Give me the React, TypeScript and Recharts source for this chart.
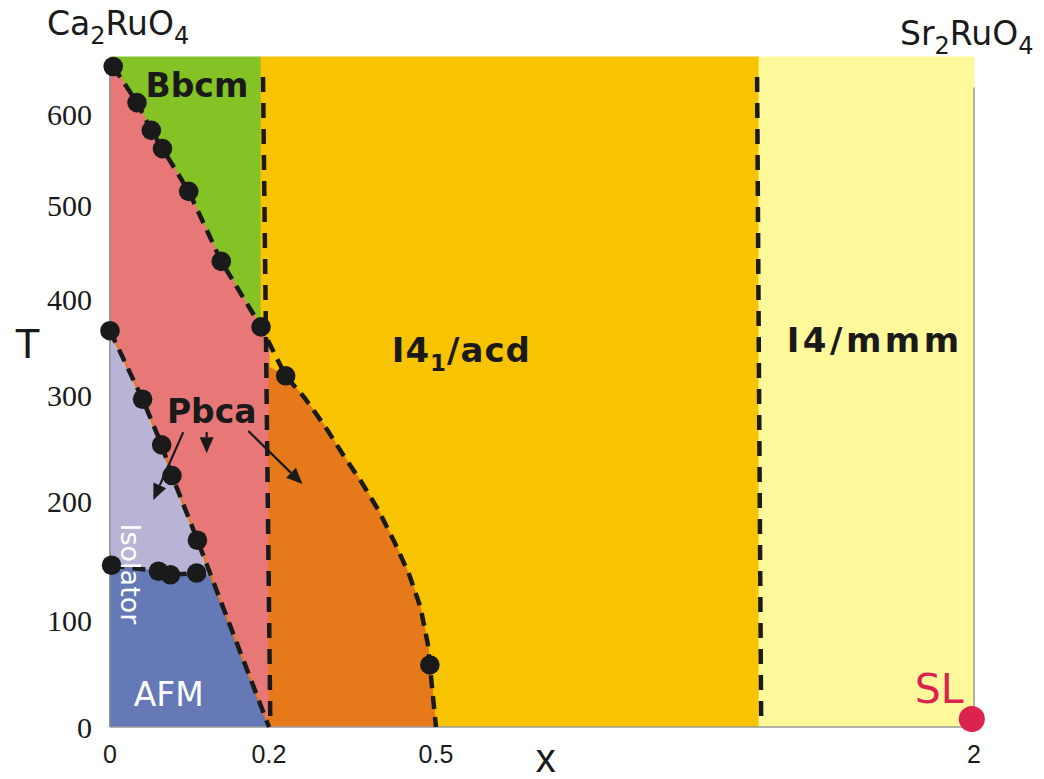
import React from 'react'
import { ComposedChart, Scatter, XAxis, YAxis } from 'recharts'

type Pt = { x: number; T: number }

// the printed axes are not linear: value knots and where they sit along the axis (0..1)
const X_KNOTS = [0, 0.2, 0.5, 1.5, 2]
const X_STOPS = [0, 0.184, 0.3773, 0.7512, 1]
const X_TICKS = [0, 0.2, 0.5, 2]
const T_KNOTS = [0, 100, 200, 300, 400, 500, 600, 660]
const T_STOPS = [0, 0.1597, 0.3373, 0.4955, 0.6388, 0.7791, 0.9149, 1]
const T_TICKS = [0, 100, 200, 300, 400, 500, 600]

// measured transitions (black dots)
const BBCM_DOTS: Pt[] = [
  { x: 0.004, T: 650 }, { x: 0.034, T: 612 }, { x: 0.052, T: 582 }, { x: 0.066, T: 562 },
  { x: 0.099, T: 515 }, { x: 0.14, T: 440 }, { x: 0.19, T: 371 },
]
const I41_DOTS: Pt[] = [{ x: 0.23, T: 320 }, { x: 0.489, T: 58 }]
const PBCA_DOTS: Pt[] = [
  { x: 0, T: 367 }, { x: 0.041, T: 296 }, { x: 0.065, T: 253 }, { x: 0.078, T: 224 }, { x: 0.11, T: 167 },
]
const AFM_DOTS: Pt[] = [{ x: 0.002, T: 146 }, { x: 0.061, T: 141 }, { x: 0.076, T: 138 }, { x: 0.109, T: 139.5 }]
const SL_DOT: Pt[] = [{ x: 1.995, T: 7.5 }]

// dashed guide curve around the orange phase
const I41_CURVE: Pt[] = [
  { x: 0.23, T: 320 }, { x: 0.263, T: 298 }, { x: 0.3, T: 271 }, { x: 0.334, T: 243 }, { x: 0.366, T: 218 },
  { x: 0.397, T: 192 }, { x: 0.426, T: 165 }, { x: 0.452, T: 138 }, { x: 0.472, T: 111 }, { x: 0.485, T: 78.5 },
  { x: 0.489, T: 58 }, { x: 0.5, T: 0 },
]
const PBCA_TOP_RIGHT: Pt = { x: 0.2, T: 356 }
const ORANGE_TOP_LEFT: Pt = { x: 0.2, T: 329 }
const PBCA_END: Pt = { x: 0.2, T: 0 }
const AFM_CORNER: Pt = { x: 0.1255, T: 137.6 }

const V_LINE_1: Pt[] = [{ x: 0.1925, T: 639 }, { x: 0.2025, T: 0 }]
const V_LINE_2: Pt[] = [{ x: 1.494, T: 639 }, { x: 1.505, T: 0 }]

const UPPER_LINE = [...BBCM_DOTS, ...I41_CURVE]
const LOWER_LINE = [...PBCA_DOTS, PBCA_END]

// phase areas
const BBCM_AREA: Pt[] = [{ x: 0, T: 0 }, { x: 0, T: 660 }, { x: 0.19, T: 660 }, { x: 0.19, T: 0 }]
const I41_AREA: Pt[] = [{ x: 0.19, T: 0 }, { x: 0.19, T: 660 }, { x: 1.5, T: 660 }, { x: 1.5, T: 0 }]
const I4MMM_AREA: Pt[] = [{ x: 1.5, T: 0 }, { x: 1.5, T: 660 }, { x: 2, T: 660 }, { x: 2, T: 0 }]
const PBCA_AREA: Pt[] = [{ x: 0, T: 650 }, ...BBCM_DOTS, PBCA_TOP_RIGHT, PBCA_END, ...[...PBCA_DOTS].reverse()]
const ISO_AREA: Pt[] = [...PBCA_DOTS, AFM_CORNER, ...[...AFM_DOTS].reverse(), { x: 0, T: 146 }]
const AFM_AREA: Pt[] = [{ x: 0, T: 0 }, { x: 0, T: 146 }, ...AFM_DOTS, AFM_CORNER, PBCA_END]
const ORANGE_AREA: Pt[] = [PBCA_END, ORANGE_TOP_LEFT, ...I41_CURVE]

const FRAME_LEFT: Pt[] = [{ x: 0, T: 0 }, { x: 0, T: 650 }]
const FRAME_BOTTOM: Pt[] = [{ x: 0, T: 0 }, { x: 2, T: 0 }]
const FRAME_RIGHT: Pt[] = [{ x: 2, T: 628 }, { x: 2, T: 0 }]

const PBCA_ARROWS: Pt[][] = [
  [{ x: 0.0922, T: 265 }, { x: 0.0545, T: 201 }],
  [{ x: 0.1216, T: 265 }, { x: 0.1216, T: 245 }],
  [{ x: 0.174, T: 266 }, { x: 0.2602, T: 216 }],
]

const ink = '#1a1a1a'
const sans = '"DejaVu Sans", Verdana, sans-serif'
const arial = '"Liberation Sans", Arial, sans-serif'
const bold = { fontFamily: sans, fontWeight: 700, fontSize: 32, fill: ink }

function piecewiseScale(knots: number[], stops: number[]): any {
  let dom = [knots[0], knots[knots.length - 1]]
  let rng = [0, 1]
  const s: any = (v: number) => {
    let i = 0
    while (i < knots.length - 2 && v > knots[i + 1]) i++
    const f = stops[i] + ((v - knots[i]) / (knots[i + 1] - knots[i])) * (stops[i + 1] - stops[i])
    return rng[0] + f * (rng[1] - rng[0])
  }
  s.domain = (d?: number[]) => (d ? ((dom = [...d]), s) : [...dom])
  s.range = (r?: number[]) => (r ? ((rng = [...r]), s) : [...rng])
  s.copy = () => piecewiseScale(knots, stops).domain(dom).range(rng)
  s.ticks = () => knots
  s.tickFormat = () => (v: number) => String(v)
  s.clamp = () => s
  s.nice = () => s
  s.invert = (px: number) => {
    const f = (px - rng[0]) / (rng[1] - rng[0])
    let i = 0
    while (i < stops.length - 2 && f > stops[i + 1]) i++
    return knots[i] + ((f - stops[i]) / (stops[i + 1] - stops[i])) * (knots[i + 1] - knots[i])
  }
  return s
}

const xScale = piecewiseScale(X_KNOTS, X_STOPS)
const tScale = piecewiseScale(T_KNOTS, T_STOPS)

const noDot = () => <g />
const dot = (r: number, fill: string) => (p: any) => <circle cx={p.cx} cy={p.cy} r={r} fill={fill} />
const textAt = (draw: (cx: number, cy: number) => React.ReactNode) => (p: any) => <g>{draw(p.cx, p.cy)}</g>

const arrowLine = (p: any) => {
  const [a, b] = p.points
  const dx = b.x - a.x
  const dy = b.y - a.y
  const len = Math.hypot(dx, dy)
  const ux = dx / len
  const uy = dy / len
  const bx = b.x - ux * 16
  const by = b.y - uy * 16
  return (
    <g>
      <line x1={a.x} y1={a.y} x2={bx} y2={by} stroke={ink} strokeWidth={2.2} />
      <polygon points={`${b.x},${b.y} ${bx - uy * 7},${by + ux * 7} ${bx + uy * 7},${by - ux * 7}`} fill={ink} />
    </g>
  )
}

const area = (key: string, data: Pt[], color: string) => (
  <Scatter key={key} data={data} shape={noDot} line={{ fill: color, stroke: color, strokeWidth: 1 }} isAnimationActive={false} />
)
const dashed = (key: string, data: Pt[], dash = '13 8') => (
  <Scatter key={key} data={data} shape={noDot}
    line={{ fill: 'none', stroke: ink, strokeWidth: 4.5, strokeDasharray: dash, strokeLinejoin: 'round' }} isAnimationActive={false} />
)
const solid = (key: string, data: Pt[], color: string, width: number) => (
  <Scatter key={key} data={data} shape={noDot} line={{ fill: 'none', stroke: color, strokeWidth: width }} isAnimationActive={false} />
)

export default function App() {
  return (
    <div style={{ width: 1044, height: 779, background: '#fff' }}>
      <style>{'body{margin:0}'}</style>
      <ComposedChart width={1044} height={779} margin={{ top: 57, right: 70, bottom: 0, left: 0 }}>
        <XAxis
          type="number"
          dataKey="x"
          domain={[0, 2]}
          scale={xScale}
          ticks={X_TICKS}
          tickFormatter={(v: number) => String(v)}
          axisLine={false}
          tickLine={false}
          tickSize={0}
          tickMargin={18}
          height={52}
          tick={{ fontFamily: arial, fontSize: 25, fill: ink }}
        />
        <YAxis
          type="number"
          dataKey="T"
          domain={[0, 660]}
          scale={tScale}
          ticks={T_TICKS}
          axisLine={false}
          tickLine={false}
          tickSize={0}
          tickMargin={18}
          width={110}
          tick={{ fontFamily: '"Liberation Serif", "Times New Roman", serif', fontSize: 30, fill: ink }}
        />

        {area('bbcm', BBCM_AREA, '#84C225')}
        {area('i41', I41_AREA, '#F8C300')}
        {area('i4mmm', I4MMM_AREA, '#FFF99C')}
        {area('pbca', PBCA_AREA, '#E87878')}
        {area('iso', ISO_AREA, '#B9B3D6')}
        {area('afm', AFM_AREA, '#6479B5')}
        {area('orange', ORANGE_AREA, '#E67A1A')}

        {solid('fl', FRAME_LEFT, '#8a8a98', 1.5)}
        {solid('fb', FRAME_BOTTOM, '#9a9a9a', 1.5)}
        {solid('fr', FRAME_RIGHT, '#9a9a9a', 1.5)}
        {solid('lowGlow', LOWER_LINE, '#E67A1A', 2)}

        {dashed('v1', V_LINE_1, '15 11')}
        {dashed('v2', V_LINE_2, '15 11')}
        {dashed('upper', UPPER_LINE)}
        {dashed('lower', LOWER_LINE)}
        {dashed('afmLine', AFM_DOTS)}

        {PBCA_ARROWS.map((a, i) => (
          <Scatter key={`arr${i}`} data={a} shape={noDot} line={arrowLine} isAnimationActive={false} />
        ))}

        <Scatter data={BBCM_DOTS} shape={dot(9.8, ink)} isAnimationActive={false} />
        <Scatter data={I41_DOTS} shape={dot(9.8, ink)} isAnimationActive={false} />
        <Scatter data={PBCA_DOTS} shape={dot(9.8, ink)} isAnimationActive={false} />
        <Scatter data={AFM_DOTS} shape={dot(9.8, ink)} isAnimationActive={false} />
        <Scatter data={SL_DOT} shape={dot(13, '#DC2350')} isAnimationActive={false} />

        <Scatter data={[{ x: 0.1094, T: 618 }]} isAnimationActive={false}
          shape={textAt((cx, cy) => <text x={cx} y={cy} textAnchor="middle" {...bold} fontSize={33}>Bbcm</text>)} />
        <Scatter data={[{ x: 0.128, T: 273.6 }]} isAnimationActive={false}
          shape={textAt((cx, cy) => <text x={cx} y={cy} textAnchor="middle" {...bold} fontSize={33}>Pbca</text>)} />
        <Scatter data={[{ x: 0.4277, T: 334.7 }]} isAnimationActive={false}
          shape={textAt((cx, cy) => (
            <text x={cx - 4} y={cy} {...bold} fontSize={34} letterSpacing={1}>
              I4<tspan fontSize={23} dy={9}>1</tspan><tspan dy={-9}>/acd</tspan>
            </text>
          ))} />
        <Scatter data={[{ x: 1.769, T: 344.8 }]} isAnimationActive={false}
          shape={textAt((cx, cy) => <text x={cx} y={cy} textAnchor="middle" {...bold} fontSize={34} letterSpacing={3.5}>I4/mmm</text>)} />
        <Scatter data={[{ x: 0.074, T: 19.3 }]} isAnimationActive={false}
          shape={textAt((cx, cy) => (
            <text x={cx} y={cy} textAnchor="middle" fontFamily={sans} fontSize={33} fill="#fff">AFM</text>
          ))} />
        <Scatter data={[{ x: 0.0264, T: 138.7 }]} isAnimationActive={false}
          shape={textAt((cx, cy) => (
            <text x={cx} y={cy} textAnchor="middle" dominantBaseline="central" transform={`rotate(90 ${cx} ${cy})`}
              fontFamily={sans} fontSize={27} fill="#fff">Isolator</text>
          ))} />
        <Scatter data={[{ x: 1.919, T: 22.1 }]} isAnimationActive={false}
          shape={textAt((cx, cy) => (
            <text x={cx} y={cy} textAnchor="middle" fontFamily={sans} fontSize={41} fill="#DC2350">SL</text>
          ))} />

        <Scatter data={[{ x: 0, T: 660 }]} isAnimationActive={false}
          shape={textAt((cx, cy) => (
            <text x={cx - 63} y={cy - 22} fontFamily={sans} fontSize={33} fill={ink}>
              Ca<tspan fontSize={24} dy={9}>2</tspan><tspan dy={-9}>RuO</tspan><tspan fontSize={24} dy={9}>4</tspan>
            </text>
          ))} />
        <Scatter data={[{ x: 2, T: 660 }]} isAnimationActive={false}
          shape={textAt((cx, cy) => (
            <text x={cx - 74} y={cy - 12} fontFamily={sans} fontSize={33} fill={ink}>
              Sr<tspan fontSize={24} dy={9}>2</tspan><tspan dy={-9}>RuO</tspan><tspan fontSize={24} dy={9}>4</tspan>
            </text>
          ))} />
        <Scatter data={[{ x: 0, T: 338.5 }]} isAnimationActive={false}
          shape={textAt((cx, cy) => (
            <text x={cx - 82.5} y={cy} textAnchor="middle" fontFamily={arial} fontSize={42} fill={ink}>T</text>
          ))} />
        <Scatter data={[{ x: 0.84, T: 0 }]} isAnimationActive={false}
          shape={textAt((cx, cy) => (
            <text x={cx} y={cy + 45} textAnchor="middle" fontFamily={arial} fontSize={40} fill={ink}>x</text>
          ))} />
      </ComposedChart>
    </div>
  )
}
